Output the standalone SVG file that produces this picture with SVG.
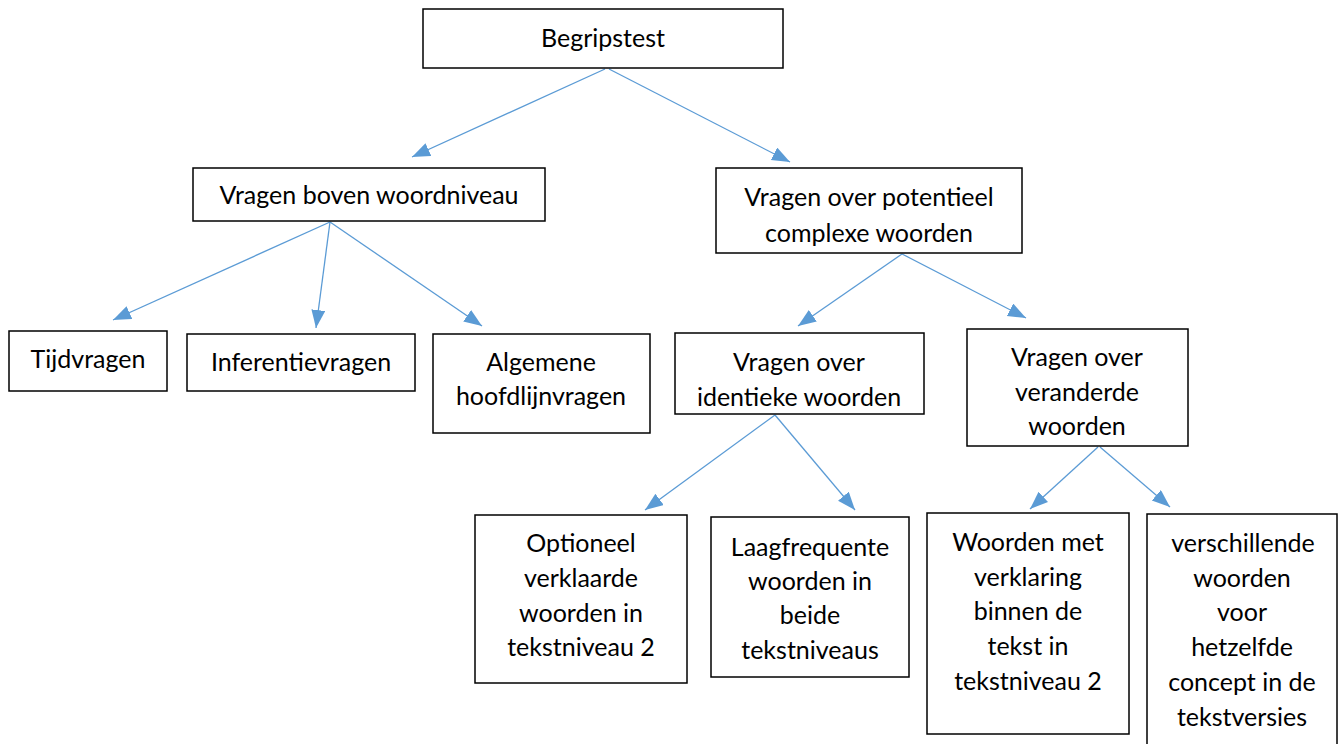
<svg xmlns="http://www.w3.org/2000/svg" width="1339" height="744" viewBox="0 0 1339 744">
<defs>
<style>
rect{fill:#fff;stroke:#000;stroke-width:1.5}
text{font-family:Lato,"Open Sans","Liberation Sans",sans-serif;font-size:25px;fill:#000;text-anchor:middle}
.c line{stroke:#5B9BD5;stroke-width:1.3;marker-end:url(#ah)}
</style>
<marker id="ah" markerUnits="userSpaceOnUse" markerWidth="20" markerHeight="16" refX="18" refY="7" orient="auto"><path d="M0,0L18,7L0,14Z" fill="#5B9BD5"/></marker>
</defs>
<rect width="1339" height="744" style="fill:#fff;stroke:none"/>
<g class="c" id="connectors">
<line x1="605" y1="69" x2="412" y2="157"/>
<line x1="609" y1="69" x2="790" y2="162"/>
<line x1="330" y1="222" x2="113" y2="320"/>
<line x1="330" y1="222" x2="316" y2="328"/>
<line x1="330" y1="222" x2="482" y2="326"/>
<line x1="902" y1="254" x2="798" y2="326"/>
<line x1="902" y1="254" x2="1026" y2="318"/>
<line x1="775" y1="415" x2="645" y2="510"/>
<line x1="775" y1="415" x2="855" y2="510"/>
<line x1="1098" y1="447" x2="1030" y2="509"/>
<line x1="1100" y1="447" x2="1170" y2="507"/>
</g>
<g id="n1"><rect x="423" y="9" width="360" height="59"/><text x="603" y="47">Begripstest</text></g>
<g id="n2"><rect x="193" y="168" width="352" height="53"/><text x="369" y="204">Vragen boven woordniveau</text></g>
<g id="n3"><rect x="716" y="168" width="306" height="85"/><text x="869" y="206">Vragen over potentieel</text><text x="869" y="242">complexe woorden</text></g>
<g id="n4"><rect x="9" y="331" width="158" height="60"/><text x="88" y="368">Tijdvragen</text></g>
<g id="n5"><rect x="187" y="334" width="228" height="57"/><text x="301" y="371">Inferentievragen</text></g>
<g id="n6"><rect x="433" y="334" width="217" height="99"/><text x="541" y="371">Algemene</text><text x="541" y="405">hoofdlijnvragen</text></g>
<g id="n7"><rect x="675" y="333" width="249" height="81"/><text x="799" y="371">Vragen over</text><text x="799" y="406">identieke woorden</text></g>
<g id="n8"><rect x="967" y="329" width="221" height="117"/><text x="1077" y="366">Vragen over</text><text x="1077" y="401">veranderde</text><text x="1077" y="435">woorden</text></g>
<g id="n9"><rect x="475" y="515" width="212" height="168"/><text x="581" y="552">Optioneel</text><text x="581" y="587">verklaarde</text><text x="581" y="622">woorden in</text><text x="581" y="656">tekstniveau 2</text></g>
<g id="n10"><rect x="711" y="517" width="198" height="160"/><text x="810" y="556">Laagfrequente</text><text x="810" y="590">woorden in</text><text x="810" y="624">beide</text><text x="810" y="659">tekstniveaus</text></g>
<g id="n11"><rect x="927" y="513" width="202" height="221"/><text x="1028" y="551">Woorden met</text><text x="1028" y="586">verklaring</text><text x="1028" y="620">binnen de</text><text x="1028" y="655">tekst in</text><text x="1028" y="690">tekstniveau 2</text></g>
<g id="n12"><rect x="1147" y="514" width="190" height="240"/><text x="1243" y="552">verschillende</text><text x="1242" y="587">woorden</text><text x="1242" y="621">voor</text><text x="1242" y="656">hetzelfde</text><text x="1242" y="691">concept in de</text><text x="1242" y="726">tekstversies</text></g>
</svg>
